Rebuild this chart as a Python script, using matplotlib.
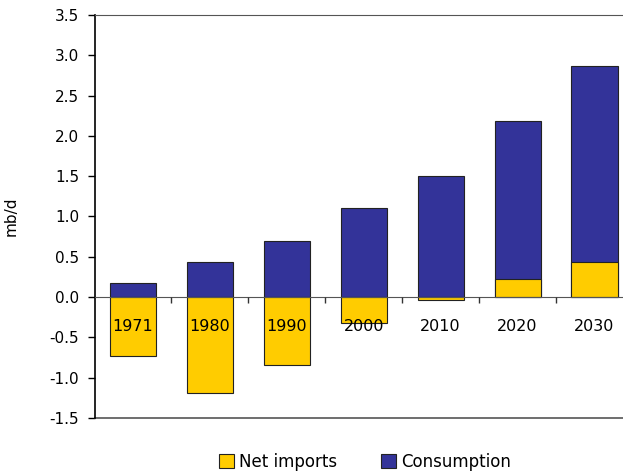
import matplotlib.pyplot as plt
import numpy as np

# data (mb/d)
years = ['1971', '1980', '1990', '2000', '2010', '2020', '2030']
consumption = [0.17, 0.43, 0.69, 1.10, 1.50, 2.19, 2.87]
net_imports = [-0.73, -1.19, -0.84, -0.32, -0.03, 0.22, 0.43]

plt.rcParams['font.family'] = ['DejaVu Sans']

fig = plt.figure(figsize=(6.23, 4.75), dpi=100)
W, H = 623, 475
ax = fig.add_axes([94.5 / W, 1 - 418 / H, (633 - 94.5) / W, (418 - 15) / H])

x = np.arange(len(years))
ax.bar(x, consumption, width=0.6, color='#333399', edgecolor='#222222', linewidth=0.8,
       label='Consumption', zorder=2)
ax.bar(x, net_imports, width=0.6, color='#FFCC00', edgecolor='#222222', linewidth=0.8,
       label='Net imports', zorder=3)

ax.set_xlim(-0.5, len(years) - 0.5)
ax.set_ylim(-1.5, 3.5)
ax.set_yticks(np.arange(-1.5, 3.51, 0.5))
ax.set_yticklabels(['%.1f' % v for v in np.arange(-1.5, 3.51, 0.5)], fontsize=11)
ax.tick_params(axis='y', direction='out', length=5, width=1, pad=6)

# category axis crosses at zero, labels drawn over the bars
ax.xaxis.set_zorder(5)
ax.spines['bottom'].set_position(('data', 0))
ax.spines['bottom'].set_color('#555555')
ax.spines['bottom'].set_zorder(4)
ax.spines['right'].set_visible(False)
ax.spines['top'].set_color('#555555')
ax.spines['left'].set_linewidth(1.2)
ax.set_xticks(x)
ax.set_xticklabels(years, fontsize=11.5)
ax.tick_params(axis='x', which='major', length=0, pad=16)
ax.set_xticks(np.arange(0.5, len(years) - 0.5), minor=True)
ax.tick_params(axis='x', which='minor', direction='out', length=4, width=1, color='#333333')
ax.axhline(-1.5, color='#555555', linewidth=1.2, clip_on=False)

ax.set_ylabel('mb/d', fontsize=11, labelpad=22)

handles, labels = ax.get_legend_handles_labels()
fig.legend(handles[::-1], labels[::-1], loc='center', bbox_to_anchor=(365 / W, 1 - 462 / H),
           ncol=2, frameon=False, fontsize=12, handlelength=0.9, handleheight=0.9,
           handletextpad=0.3, columnspacing=2.6)

fig.savefig('out.png', dpi=100)
